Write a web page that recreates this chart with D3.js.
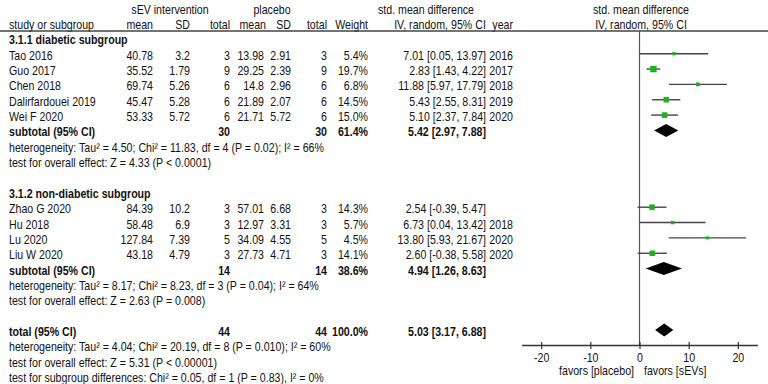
<!DOCTYPE html>
<html><head><meta charset="utf-8">
<script src="https://cdn.jsdelivr.net/npm/d3@7"></script>
<style>body{margin:0;background:#fff}svg{display:block}text{font-family:"Liberation Sans",Arial,sans-serif;font-size:12.5px;fill:#111}</style>
</head><body>
<svg id="c" width="768" height="384"></svg>
<script>
const studies = ["Tao 2016","Guo 2017","Chen 2018","Dalirfardouei 2019","Wei F 2020","Zhao G 2020","Hu 2018","Lu 2020","Liu W 2020"];
const groupOf = [1,1,1,1,1,2,2,2,2];
const expMean = [40.78,35.52,69.74,45.47,53.33,84.39,58.48,127.84,43.18];
const expSD = [3.2,1.79,5.26,5.28,5.72,10.2,6.9,7.39,4.79];
const expN = [3,9,6,6,6,3,3,5,3];
const ctlMean = [13.98,29.25,14.8,21.89,21.71,57.01,12.97,34.09,27.73];
const ctlSD = [2.91,2.39,2.96,2.07,5.72,6.68,3.31,4.55,4.71];
const ctlN = [3,9,6,6,6,3,3,5,3];
const weight = [5.4,19.7,6.8,14.5,15.0,14.3,5.7,4.5,14.1];
const smd = [7.01,2.83,11.88,5.43,5.10,2.54,6.73,13.80,2.60];
const ciLo = [0.05,1.43,5.97,2.55,2.37,-0.39,0.04,5.93,-0.38];
const ciHi = [13.97,4.22,17.79,8.31,7.84,5.47,13.42,21.67,5.58];
const years = ["2016","2017","2018","2019","2020","","2018","2020","2020"];

const groupNames = ["3.1.1 diabetic subgroup","3.1.2 non-diabetic subgroup"];
const subN = [30,14];
const subWeight = [61.4,38.6];
const subSmd = [5.42,4.94];
const subLo = [2.97,1.26];
const subHi = [7.88,8.63];
const subHet = ["heterogeneity: Tau\u00b2 = 4.50; Chi\u00b2 = 11.83, df = 4 (P = 0.02); I\u00b2 = 66%",
                "heterogeneity: Tau\u00b2 = 8.17; Chi\u00b2 = 8.23, df = 3 (P = 0.04); I\u00b2 = 64%"];
const subTest = ["test for overall effect: Z = 4.33 (P < 0.0001)","test for overall effect: Z = 2.63 (P = 0.008)"];
const totN = 44, totWeight = 100.0, totSmd = 5.03, totLo = 3.17, totHi = 6.88;
const totLines = ["heterogeneity: Tau\u00b2 = 4.04; Chi\u00b2 = 20.19, df = 8 (P = 0.010); I\u00b2 = 60%",
                  "test for overall effect: Z = 5.31 (P < 0.00001)",
                  "test for subgroup differences: Chi\u00b2 = 0.05, df = 1 (P = 0.83), I\u00b2 = 0%"];
const tickVals = [-20,-10,0,10,20];
const favLeft = "favors [placebo]", favRight = "favors [sEVs]";

const svg = d3.select("#c");
const SX = 0.85;
const rowY = r => 7.65 + r*15.35;
function txt(x, r, s, anchor, bold, dy) {
  svg.append("text")
    .attr("transform", `translate(${x},${rowY(r) + (dy===undefined?6:dy)}) scale(${SX},1)`)
    .attr("text-anchor", anchor || "start")
    .attr("font-weight", bold ? "bold" : null)
    .text(s);
}
const x = d3.scaleLinear().domain([-24,24]).range([521.5,757.5]);
const f2 = d => d.toFixed(2);
const ci = (m,l,h) => `${f2(m)} [${f2(l)}, ${f2(h)}]`;
const C = {name:9, em:153, esd:190, en:230, cm:264, csd:291, cn:327, w:368, ci:486, yr:513};

// headers
txt(170,0,"sEV intervention","middle");
txt(272,0,"placebo","middle");
txt(426,0,"std. mean difference","middle");
txt(641,0,"std. mean difference","middle");
txt(C.name,1,"study or subgroup");
txt(C.em,1,"mean","end"); txt(C.esd,1,"SD","end"); txt(C.en,1,"total","end");
txt(266,1,"mean","end"); txt(C.csd,1,"SD","end"); txt(C.cn,1,"total","end");
txt(C.w,1,"Weight","end");
txt(440,1,"IV,  random, 95% CI","middle");
txt(C.yr,1,"year","end");
txt(641,1,"IV,  random, 95% CI","middle");
svg.append("line").attr("x1",0).attr("x2",768).attr("y1",31).attr("y2",31).attr("stroke","#444").attr("stroke-width",1.3);

// zero line
svg.append("line").attr("x1",x(0)).attr("x2",x(0)).attr("y1",31).attr("y2",345).attr("stroke","#555").attr("stroke-width",1.2);

function diamond(r, m, l, h) {
  const y = rowY(r);
  svg.append("path").attr("d",`M${x(l)},${y}L${x(m)},${y-6.5}L${x(h)},${y}L${x(m)},${y+6.5}Z`).attr("fill","#000");
}

let r = 2;
[1,2].forEach((g,gi) => {
  txt(C.name,r,groupNames[gi],"start",true);
  r++;
  studies.forEach((s,i) => {
    if (groupOf[i] !== g) return;
    txt(C.name,r,s);
    txt(C.em,r,String(expMean[i]),"end"); txt(C.esd,r,String(expSD[i]),"end"); txt(C.en,r,String(expN[i]),"end");
    txt(C.cm,r,String(ctlMean[i]),"end"); txt(C.csd,r,String(ctlSD[i]),"end"); txt(C.cn,r,String(ctlN[i]),"end");
    txt(C.w,r,weight[i].toFixed(1)+"%","end");
    txt(C.ci,r,ci(smd[i],ciLo[i],ciHi[i]),"end");
    txt(C.yr,r,years[i],"end");
    const y = rowY(r);
    svg.append("line").attr("x1",x(ciLo[i])).attr("x2",x(ciHi[i])).attr("y1",y).attr("y2",y).attr("stroke","#444").attr("stroke-width",1.4);
    const sz = 1.45*Math.sqrt(weight[i]);
    svg.append("rect").attr("x",x(smd[i])-sz/2).attr("y",y-sz/2).attr("width",sz).attr("height",sz).attr("fill","#1fb01f");
    r++;
  });
  txt(C.name,r,"subtotal (95% CI)","start",true);
  txt(C.en,r,String(subN[gi]),"end",true);
  txt(C.cn,r,String(subN[gi]),"end",true);
  txt(C.w,r,subWeight[gi].toFixed(1)+"%","end",true);
  txt(C.ci,r,ci(subSmd[gi],subLo[gi],subHi[gi]),"end",true);
  diamond(r,subSmd[gi],subLo[gi],subHi[gi]);
  r++;
  txt(C.name,r,subHet[gi]); r++;
  txt(C.name,r,subTest[gi]); r++;
  r++;
});
txt(C.name,r,"total (95% CI)","start",true);
txt(C.en,r,String(totN),"end",true);
txt(C.cn,r,String(totN),"end",true);
txt(C.w,r,totWeight.toFixed(1)+"%","end",true);
txt(C.ci,r,ci(totSmd,totLo,totHi),"end",true);
diamond(r,totSmd,totLo,totHi);
r++;
totLines.forEach(l => { txt(C.name,r,l); r++; });

// axis
const ax = svg.append("g").attr("transform","translate(0,345)")
  .call(d3.axisBottom(x).tickValues(tickVals).tickFormat(d => String(d)).tickSizeInner(4).tickSizeOuter(0).tickPadding(4));
ax.select(".domain").attr("stroke","#333").attr("stroke-width",1.4);
ax.selectAll(".tick line").attr("y1",-3).attr("stroke","#333").attr("stroke-width",1.2);
ax.selectAll(".tick text").attr("fill","#111").attr("transform",`scale(${SX},1)`);
ax.attr("font-size",null).attr("font-family",null);
svg.append("text").attr("transform",`translate(634,374.5) scale(${SX},1)`).attr("text-anchor","end").text(favLeft);
svg.append("text").attr("transform",`translate(644,374.5) scale(${SX},1)`).attr("text-anchor","start").text(favRight);
</script>
</body></html>
